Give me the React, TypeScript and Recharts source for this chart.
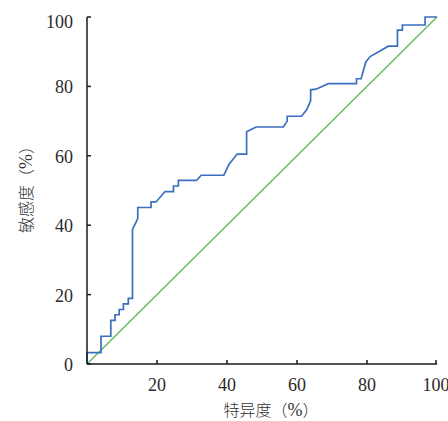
import { Label, Line, LineChart, XAxis, YAxis } from "recharts";

// ROC curve points: specificity-axis value (x) and sensitivity (y), in %
const rocX = [
  0, 0, 4, 4, 6.8, 6.8, 8, 8, 9.2, 9.2, 10.4, 10.4, 11.8, 11.8, 13, 13, 14.5, 14.5, 18.3, 18.3, 19.7, 22.3, 24.7,
  24.7, 26.1, 26.1, 31.3, 32.6, 39.1, 40.6, 42.9, 45.6, 45.6, 48.3, 56.1, 57.2, 57.2, 61.3, 62.8, 63.9, 63.9, 65.4,
  69, 77, 77, 78.3, 79.7, 80.9, 86.1, 88.7, 88.7, 90.1, 90.1, 96.6, 96.6, 100,
];
const rocY = [
  0, 3.3, 3.3, 8, 8, 12.6, 12.6, 14.2, 14.2, 15.7, 15.7, 17.3, 17.3, 18.9, 18.9, 38.8, 41.9, 45.1, 45.1, 46.7, 46.7,
  49.7, 49.7, 51.3, 51.3, 52.9, 52.9, 54.4, 54.4, 57.6, 60.5, 60.5, 66.9, 68.3, 68.3, 70, 71.4, 71.4, 73.3, 75.9, 79,
  79.2, 80.8, 80.8, 82.2, 82.2, 87.1, 88.6, 91.6, 91.6, 96.2, 96.2, 97.7, 97.7, 100, 100,
];
const refX = [0, 100];
const refY = [0, 100];
const xTicks = [20, 40, 60, 80, 100];
const yTicks = [0, 20, 40, 60, 80, 100];
const xTitle = "特异度";
const yTitle = "敏感度";

const rocData = rocX.map((x, i) => ({ x, y: rocY[i] }));
const refData = refX.map((x, i) => ({ x, y: refY[i] }));

const numFont = "'Times New Roman', 'Liberation Serif', serif";
const cjkFont = "Noto Sans CJK SC";
const axisColor = "#1a1a1a";
const textColor = "#2a2a2a";

function YTick(props: any) {
  const { x, y, payload } = props;
  const axisX = x + 14;
  const shift = payload.value === 100 ? 5 : 1;
  return (
    <g>
      <line x1={axisX} y1={y} x2={axisX + 4} y2={y} stroke={axisColor} strokeWidth={1.5} />
      <text x={x} y={y + shift + 6} textAnchor="end" fontFamily={numFont} fontSize={18} fill={textColor}>
        {payload.value}
      </text>
    </g>
  );
}

function XTick(props: any) {
  const { x, y, payload } = props;
  return (
    <g>
      <line x1={x} y1={y} x2={x} y2={y - 4} stroke={axisColor} strokeWidth={1.5} />
      <text x={x} y={y + 27} textAnchor="middle" fontFamily={numFont} fontSize={18} fill={textColor}>
        {payload.value}
      </text>
    </g>
  );
}

function AxisTitle({ x, y, title, rotate }: { x: number; y: number; title: string; rotate?: boolean }) {
  return (
    <text
      x={x}
      y={y}
      transform={rotate ? `rotate(-90 ${x} ${y})` : undefined}
      textAnchor="middle"
      dy={6}
      fontFamily={cjkFont}
      fontSize={16}
      fontWeight={300}
      fill="#333"
    >
      {title}（<tspan fontFamily={numFont} fontSize={18}>%</tspan>）
    </text>
  );
}

export default function App() {
  return (
    <div style={{ position: "absolute", left: 0, top: 0, width: 448, height: 421, background: "#fff" }}>
      <LineChart width={448} height={421} margin={{ top: 17, right: 11, bottom: 27, left: 0 }}>
        <XAxis
          type="number"
          dataKey="x"
          domain={[0, 100]}
          ticks={xTicks}
          tickSize={0}
          tickMargin={0}
          tick={<XTick />}
          tickLine={false}
          height={30}
          axisLine={{ stroke: axisColor, strokeWidth: 1.5 }}
          allowDuplicatedCategory={false}
        >
          <Label
            content={(p: any) => (
              <AxisTitle x={p.viewBox.x + p.viewBox.width / 2 + 9} y={p.viewBox.y + 46} title={xTitle} />
            )}
          />
        </XAxis>
        <YAxis
          type="number"
          dataKey="y"
          domain={[0, 100]}
          ticks={yTicks}
          tickSize={0}
          tickMargin={14}
          tick={<YTick />}
          tickLine={false}
          width={87}
          axisLine={{ stroke: axisColor, strokeWidth: 1.5 }}
        >
          <Label
            content={(p: any) => (
              <AxisTitle
                x={p.viewBox.x + 26}
                y={p.viewBox.y + p.viewBox.height / 2 - 5}
                title={yTitle}
                rotate
              />
            )}
          />
        </YAxis>
        <Line
          data={refData}
          dataKey="y"
          type="linear"
          stroke="#62bb5a"
          strokeWidth={1.4}
          dot={false}
          isAnimationActive={false}
        />
        <Line
          data={rocData}
          dataKey="y"
          type="linear"
          stroke="#3a6fbf"
          strokeWidth={1.7}
          dot={false}
          isAnimationActive={false}
        />
      </LineChart>
    </div>
  );
}
